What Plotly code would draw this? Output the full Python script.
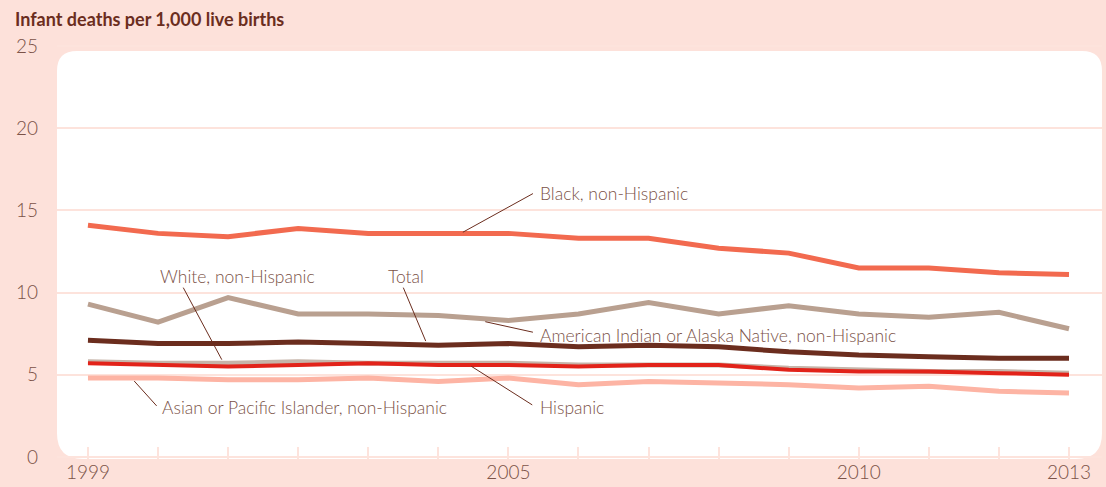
import plotly.graph_objects as go

# ── Data ──────────────────────────────────────────────────────────────────────
years = list(range(1999, 2014))

black_nh = [14.1, 13.6, 13.4, 13.9, 13.6, 13.6, 13.6, 13.3, 13.3, 12.7, 12.4, 11.5, 11.5, 11.2, 11.1]
aian_nh = [9.3, 8.2, 9.7, 8.7, 8.7, 8.6, 8.3, 8.7, 9.4, 8.7, 9.2, 8.7, 8.5, 8.8, 7.8]
total = [7.1, 6.9, 6.9, 7.0, 6.9, 6.8, 6.9, 6.7, 6.8, 6.7, 6.4, 6.2, 6.1, 6.0, 6.0]
white_nh = [5.8, 5.7, 5.7, 5.8, 5.7, 5.7, 5.7, 5.6, 5.6, 5.6, 5.4, 5.3, 5.2, 5.2, 5.1]
hispanic = [5.7, 5.6, 5.5, 5.6, 5.7, 5.6, 5.6, 5.5, 5.6, 5.6, 5.3, 5.2, 5.2, 5.1, 5.0]
api_nh = [4.8, 4.8, 4.7, 4.7, 4.8, 4.6, 4.8, 4.4, 4.6, 4.5, 4.4, 4.2, 4.3, 4.0, 3.9]

x_labels = {1999: "1999", 2005: "2005", 2010: "2010", 2013: "2013"}
y_ticks = [0, 5, 10, 15, 20, 25]

# label text, text anchor (x, y, xanchor), leader line (x0, y0) on series -> (x1, y1)
labels = [
    ("Black, non-Hispanic", 2005.42, 16.02, "left", (2004.35, 13.67), (2005.35, 16.02)),
    ("White, non-Hispanic", 2001.14, 10.96, "center", (2000.36, 10.30), (2000.91, 5.92)),
    ("Total", 2003.54, 10.96, "center", (2003.50, 10.30), (2003.82, 7.05)),
    ("American Indian or Alaska Native, non-Hispanic", 2005.42, 7.41, "left",
     (2004.67, 8.23), (2005.35, 7.59)),
    ("Asian or Pacific Islander, non-Hispanic", 2000.03, 3.01, "left",
     (1999.66, 4.62), (1999.98, 3.11)),
    ("Hispanic", 2005.42, 3.01, "left", (2004.47, 5.52), (2005.34, 3.17)),
]

# ── Styling ───────────────────────────────────────────────────────────────────
PINK = "#fde1da"
GRID = "#fde3dc"
TEXT = "#7b5247"
DARK = "#6b2d1e"
FONT = "Lato"

series = [
    ("Asian or Pacific Islander, non-Hispanic", api_nh, "#fdb4a4", 5),
    ("American Indian or Alaska Native, non-Hispanic", aian_nh, "#b9a090", 5),
    ("White, non-Hispanic", white_nh, "#c6b4a9", 5),
    ("Hispanic", hispanic, "#e2231a", 4),
    ("Total", total, DARK, 5),
    ("Black, non-Hispanic", black_nh, "#f26a4f", 5),
]

fig = go.Figure()
for name, vals, color, width in series:
    fig.add_trace(go.Scatter(x=years, y=vals, name=name, mode="lines",
                             line=dict(color=color, width=width), showlegend=False))

# ── Rounded white plot panel (paper coords) ───────────────────────────────────
W, H = 1106, 487
m_l, m_r, m_t, m_b = 57, 4, 40, 24
pw, ph = W - m_l - m_r, H - m_t - m_b
rx, ry = 20 / pw, 20 / ph
x0, x1, y0, y1 = 0, 1, 0, (H - m_b - 51) / ph
panel = (f"M {x0 + rx},{y1} L {x1 - rx},{y1} Q {x1},{y1} {x1},{y1 - ry} "
         f"L {x1},{y0 + ry * 1.3} Q {x1},{y0} {x1 - rx * 1.3},{y0} "
         f"L {x0 + rx * 1.3},{y0} Q {x0},{y0} {x0},{y0 + ry * 1.3} "
         f"L {x0},{y1 - ry} Q {x0},{y1} {x0 + rx},{y1} Z")
fig.add_shape(type="path", path=panel, xref="paper", yref="paper",
              fillcolor="white", line=dict(width=0), layer="below")

# ── Labels with leader lines ──────────────────────────────────────────────────
for text, tx, ty, anchor, (lx0, ly0), (lx1, ly1) in labels:
    fig.add_shape(type="line", x0=lx0, y0=ly0, x1=lx1, y1=ly1, xref="x", yref="y",
                  line=dict(color=DARK, width=1))
    fig.add_annotation(x=tx, y=ty, text=text, showarrow=False, xanchor=anchor,
                       yanchor="middle",
                       font=dict(family=FONT, size=17.5, color=TEXT, weight=300))

fig.add_annotation(x=(13 - m_l) / pw, y=(H - m_b - 19) / ph, xref="paper", yref="paper",
                   text="<b>Infant deaths per 1,000 live births</b>", showarrow=False,
                   xanchor="left", yanchor="middle",
                   font=dict(family=FONT, size=18, color=DARK))

# ── Layout ────────────────────────────────────────────────────────────────────
fig.update_layout(
    width=W, height=H,
    paper_bgcolor=PINK,
    plot_bgcolor="rgba(0,0,0,0)",
    margin=dict(l=m_l, r=m_r, t=m_t, b=m_b),
    font=dict(family=FONT, color=TEXT),
)
fig.update_xaxes(
    range=[1998.558, 2013.471],
    tickvals=years,
    ticktext=[x_labels.get(y, "") for y in years],
    ticks="inside", ticklen=12, tickwidth=2, tickcolor=GRID,
    showgrid=False, zeroline=False, showline=False,
    tickfont=dict(family=FONT, size=19, color=TEXT, weight=300),
)
fig.update_yaxes(
    range=[-0.12, 25.36],
    tickvals=y_ticks,
    showgrid=True, gridcolor=GRID, gridwidth=2,
    zeroline=False, showline=False, ticks="",
    ticklabelstandoff=18,
    tickfont=dict(family=FONT, size=19, color=TEXT, weight=300),
)

fig.write_html("out.html", config={"displayModeBar": False},
               post_script="document.body.style.margin='0px';")
